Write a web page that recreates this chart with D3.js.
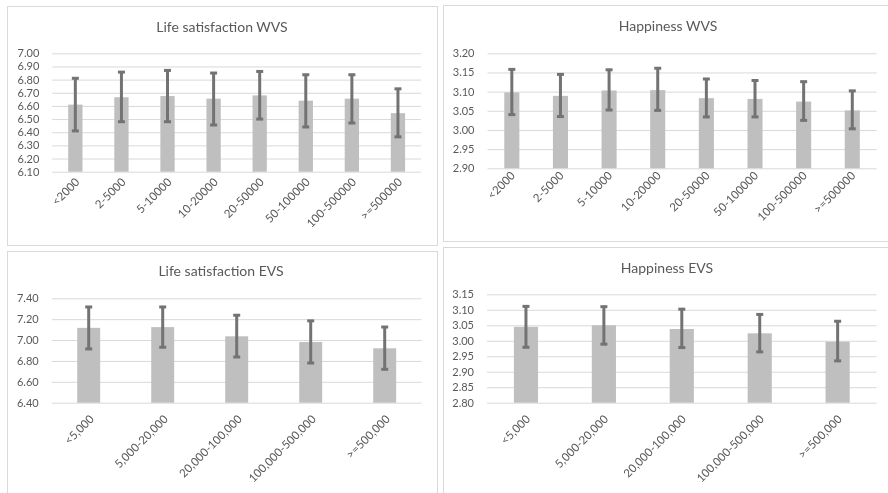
<!DOCTYPE html>
<html>
<head>
<meta charset="utf-8">
<script src="https://cdn.jsdelivr.net/npm/d3@7/dist/d3.min.js"></script>
<style>
  html, body { margin: 0; padding: 0; background: #ffffff; }
  svg { display: block; will-change: transform; }
  text { font-family: Lato, "Open Sans", "Liberation Sans", sans-serif; }
</style>
</head>
<body>
<svg id="chart" width="888" height="493"></svg>
<script>
// ---------------- DATA ----------------
const wvsCategories = ["<2000", "2-5000", "5-10000", "10-20000", "20-50000", "50-100000", "100-500000", ">=500000"];
const evsCategories = ["<5,000", "5,000-20,000", "20,000-100,000", "100,000-500,000", ">=500,000"];

const lsWvsValues = [6.610, 6.666, 6.675, 6.655, 6.680, 6.640, 6.655, 6.545];
const lsWvsHigh   = [6.810, 6.857, 6.870, 6.850, 6.862, 6.837, 6.837, 6.730];
const lsWvsLow    = [6.410, 6.480, 6.480, 6.455, 6.500, 6.440, 6.470, 6.365];
const lsWvsTicks  = [6.10, 6.20, 6.30, 6.40, 6.50, 6.60, 6.70, 6.80, 6.90, 7.00];

const hWvsValues = [3.098, 3.089, 3.103, 3.104, 3.083, 3.081, 3.074, 3.051];
const hWvsHigh   = [3.158, 3.145, 3.157, 3.161, 3.133, 3.129, 3.126, 3.102];
const hWvsLow    = [3.040, 3.035, 3.052, 3.051, 3.034, 3.034, 3.025, 3.003];
const hWvsTicks  = [2.90, 2.95, 3.00, 3.05, 3.10, 3.15, 3.20];

const lsEvsValues = [7.117, 7.124, 7.036, 6.981, 6.921];
const lsEvsHigh   = [7.317, 7.317, 7.238, 7.184, 7.125];
const lsEvsLow    = [6.915, 6.931, 6.838, 6.780, 6.720];
const lsEvsTicks  = [6.40, 6.60, 6.80, 7.00, 7.20, 7.40];

const hEvsValues = [3.045, 3.050, 3.038, 3.024, 2.997];
const hEvsHigh   = [3.111, 3.110, 3.102, 3.085, 3.063];
const hEvsLow    = [2.979, 2.989, 2.978, 2.964, 2.935];
const hEvsTicks  = [2.80, 2.85, 2.90, 2.95, 3.00, 3.05, 3.10, 3.15];

// ---------------- LAYOUT ----------------
const panels = [
  { title: "Life satisfaction WVS", cats: wvsCategories, vals: lsWvsValues, hi: lsWvsHigh, lo: lsWvsLow, ticks: lsWvsTicks,
    frame: [7, 6, 430, 239], plot: [52.3, 421, 53.3, 171.7], titlePos: [222, 32], lab: [5, 11] },
  { title: "Happiness WVS", cats: wvsCategories, vals: hWvsValues, hi: hWvsHigh, lo: hWvsLow, ticks: hWvsTicks,
    frame: [443, 5, 452, 236], plot: [487.5, 876.6, 53.3, 168.3], titlePos: [668, 31], lab: [4, 8] },
  { title: "Life satisfaction EVS", cats: evsCategories, vals: lsEvsValues, hi: lsEvsHigh, lo: lsEvsLow, ticks: lsEvsTicks,
    frame: [7, 251, 430, 260], plot: [51.7, 421.7, 298.3, 402.7], titlePos: [221, 276], lab: [6, 17] },
  { title: "Happiness EVS", cats: evsCategories, vals: hEvsValues, hi: hEvsHigh, lo: hEvsLow, ticks: hEvsTicks,
    frame: [443, 247, 452, 260], plot: [487, 876.6, 294.3, 402.7], titlePos: [667, 273], lab: [5, 17] }
];

const svg = d3.select("#chart");
const textColor = "#595959";
const gridColor = "#d9d9d9";
const barColor = "#bfbfbf";
const errColor = "#737373";

panels.forEach(p => {
  const g = svg.append("g");
  const [fx, fy, fw, fh] = p.frame;
  g.append("rect").attr("x", fx + 0.5).attr("y", fy + 0.5).attr("width", fw).attr("height", fh)
    .attr("fill", "#ffffff").attr("stroke", gridColor).attr("stroke-width", 1);

  const [x0, x1, yT, yB] = p.plot;
  const x = d3.scaleBand().domain(p.cats).range([x0, x1]).paddingInner(0).paddingOuter(0);
  const y = d3.scaleLinear().domain([p.ticks[0], p.ticks[p.ticks.length - 1]]).range([yB, yT]);

  // y axis with gridlines
  const yAxis = d3.axisLeft(y).tickValues(p.ticks).tickFormat(d3.format(".2f"))
    .tickSize(-(x1 - x0)).tickPadding(13);
  const ya = g.append("g").attr("transform", `translate(${x0},0)`).attr("color", textColor).call(yAxis);
  ya.select(".domain").remove();
  ya.selectAll(".tick line").attr("stroke", gridColor).attr("stroke-width", 1);
  ya.selectAll(".tick text").attr("fill", textColor).style("font-size", "11px")
    .style("font-family", "Lato, 'Open Sans', sans-serif");

  // bars
  const bw = x.bandwidth() * 0.31;
  g.selectAll("rect.bar").data(p.cats).enter().append("rect").attr("class", "bar")
    .attr("x", d => x(d) + x.bandwidth() / 2 - bw / 2)
    .attr("width", bw)
    .attr("y", (d, i) => y(p.vals[i]))
    .attr("height", (d, i) => yB - y(p.vals[i]))
    .attr("fill", barColor);

  // error bars
  const cap = 7;
  const eg = g.selectAll("g.err").data(p.cats).enter().append("g").attr("class", "err");
  eg.append("line")
    .attr("x1", d => x(d) + x.bandwidth() / 2).attr("x2", d => x(d) + x.bandwidth() / 2)
    .attr("y1", (d, i) => y(p.hi[i])).attr("y2", (d, i) => y(p.lo[i]))
    .attr("stroke", errColor).attr("stroke-width", 3);
  eg.append("line")
    .attr("x1", d => x(d) + x.bandwidth() / 2 - cap / 2).attr("x2", d => x(d) + x.bandwidth() / 2 + cap / 2)
    .attr("y1", (d, i) => y(p.hi[i])).attr("y2", (d, i) => y(p.hi[i]))
    .attr("stroke", errColor).attr("stroke-width", 3);
  eg.append("line")
    .attr("x1", d => x(d) + x.bandwidth() / 2 - cap / 2).attr("x2", d => x(d) + x.bandwidth() / 2 + cap / 2)
    .attr("y1", (d, i) => y(p.lo[i])).attr("y2", (d, i) => y(p.lo[i]))
    .attr("stroke", errColor).attr("stroke-width", 3);

  // x axis labels
  const xAxis = d3.axisBottom(x).tickSize(0).tickPadding(0);
  const xa = g.append("g").attr("transform", `translate(0,${yB})`).attr("color", textColor).call(xAxis);
  xa.select(".domain").remove();
  xa.selectAll(".tick text")
    .attr("fill", textColor).style("font-size", "11.5px")
    .style("font-family", "Lato, 'Open Sans', sans-serif")
    .attr("text-anchor", "end")
    .attr("dy", null).attr("y", null)
    .attr("transform", `translate(${p.lab[0]},${p.lab[1]}) rotate(-45)`);

  // title
  g.append("text").attr("x", p.titlePos[0]).attr("y", p.titlePos[1])
    .attr("text-anchor", "middle").attr("fill", textColor)
    .style("font-size", "14px").text(p.title);
});
</script>
</body>
</html>
